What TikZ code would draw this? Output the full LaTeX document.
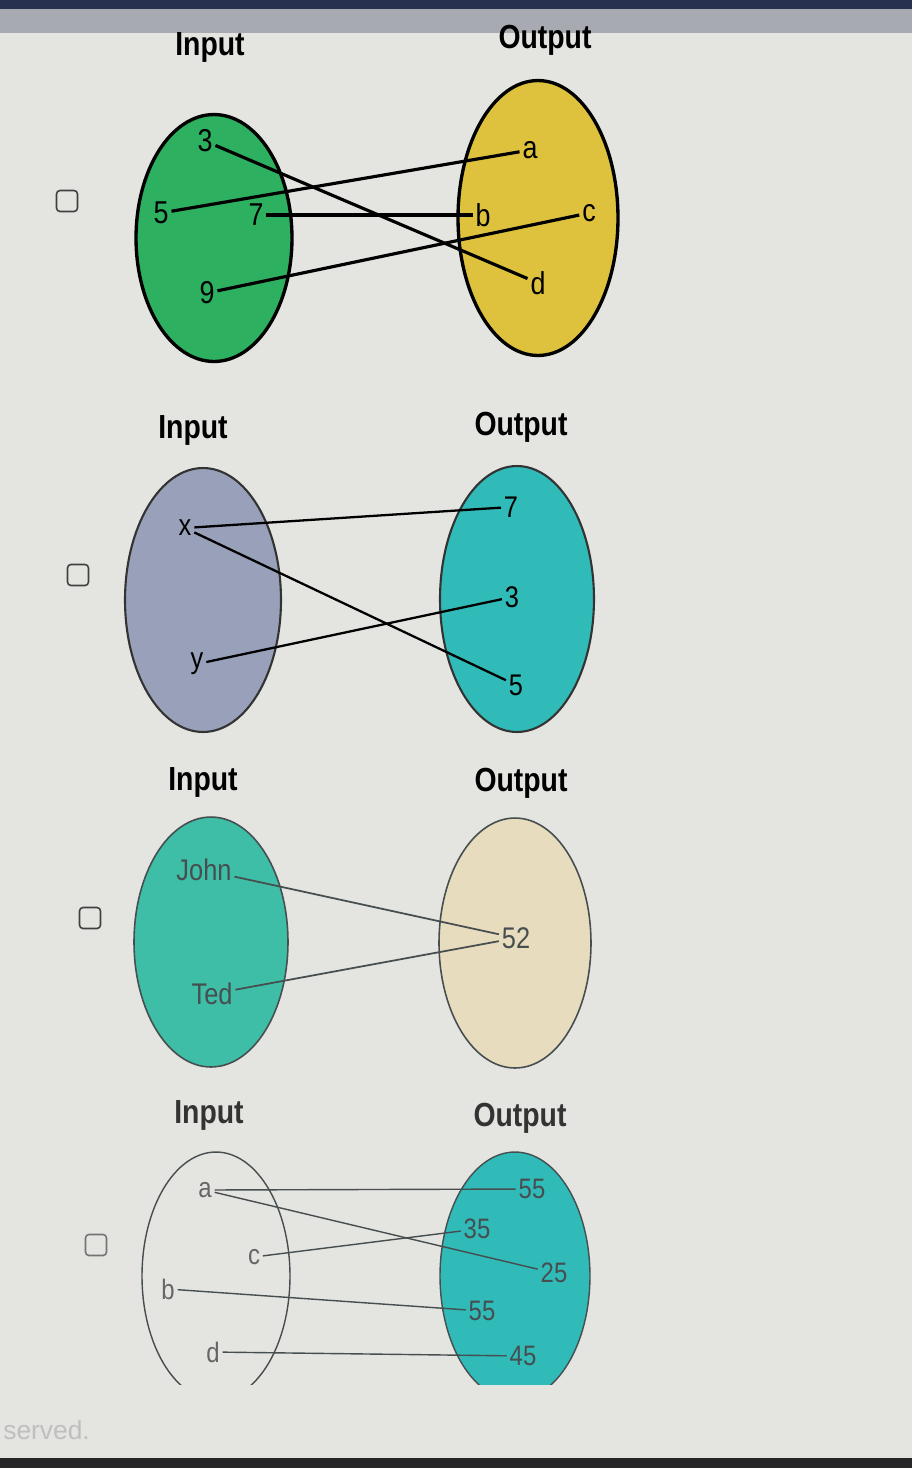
\documentclass[tikz,border=0pt]{standalone}
\usepackage{fontspec}
\setmainfont{Liberation Sans}
\newfontfamily\condfont[FakeStretch=0.85]{Liberation Sans}
\usetikzlibrary{shapes.geometric, positioning}
\definecolor{screengray}{RGB}{228,228,225}
\definecolor{bargray}{RGB}{168,170,178}
\definecolor{barnavy}{RGB}{40,48,80}
\definecolor{setgreen}{RGB}{45,176,96}
\definecolor{setyellow}{RGB}{222,194,62}
\definecolor{setslate}{RGB}{152,160,186}
\definecolor{setteal}{RGB}{48,186,184}
\definecolor{setmint}{RGB}{62,190,166}
\definecolor{setsand}{RGB}{232,220,190}
\definecolor{inkgray}{RGB}{70,78,80}

\begin{document}
\begin{tikzpicture}[
        x=0.02cm, y=-0.02cm,
        setshape/.style={ellipse, draw=black, inner sep=0pt},
        heading/.style={font=\condfont\bfseries\fontsize{19}{21}\selectfont},
        elem/.style={font=\condfont\fontsize{17}{19}\selectfont, inner sep=1.5pt},
        tickbox/.style={rectangle, draw=black!75, fill=screengray, line width=0.9pt, rounded corners=2pt, minimum size=0.42cm, inner sep=0pt},
        link/.style={line width=1.4pt}
    ]
        % screen
        \useasboundingbox (0,0) rectangle (912,1468);
        \fill[screengray] (0,0) rectangle (912,1468);
        \fill[bargray] (0,0) rectangle (912,33);
        \fill[barnavy] (0,0) rectangle (912,9);
        \fill[black!85] (0,1458) rectangle (912,1468);
        \node[font=\fontsize{15}{17}\selectfont, text=black!25, anchor=west, inner sep=0pt] (foot) at (3,1430) {served.};

        % first relation
        \node[tickbox] (box1) at (67,201) {};
        \node[heading] (in1) at (210,47) {Input};
        \node[heading] (out1) at (545,40) {Output};
        \node[setshape, fill=setgreen, line width=1.9pt, minimum width=3.12cm, minimum height=4.94cm] (set1a) at (214,238) {};
        \node[setshape, fill=setyellow, line width=1.9pt, minimum width=3.2cm, minimum height=5.5cm] (set1b) at (538,218) {};
        \node[elem, font=\condfont\fontsize{18}{20}\selectfont] (p3) at (205,141) {3};
        \node[elem, font=\condfont\fontsize{18}{20}\selectfont] (p5) at (161,213) {5};
        \node[elem, font=\condfont\fontsize{18}{20}\selectfont] (p7) at (256,215) {7};
        \node[elem, font=\condfont\fontsize{18}{20}\selectfont] (p9) at (207,293) {9};
        \node[elem, font=\condfont\fontsize{18}{20}\selectfont] (qa) at (530,150) {a};
        \node[elem, font=\condfont\fontsize{18}{20}\selectfont] (qb) at (483,215) {b};
        \node[elem, font=\condfont\fontsize{18}{20}\selectfont] (qc) at (589,213) {c};
        \node[elem, font=\condfont\fontsize{18}{20}\selectfont] (qd) at (538,283) {d};
        \draw[link, line width=1.8pt] (p3) -- (qd);
        \draw[link, line width=1.8pt] (p5) -- (qa);
        \draw[link, line width=1.8pt] (p7) -- (qb);
        \draw[link, line width=1.8pt] (p9) -- (qc);

        % second relation
        \node[tickbox] (box2) at (78,575) {};
        \node[heading] (in2) at (193,430) {Input};
        \node[heading] (out2) at (521,427) {Output};
        \node[setshape, fill=setslate, draw=black!80, line width=1.2pt, minimum width=3.12cm, minimum height=5.28cm] (set2a) at (203,600) {};
        \node[setshape, fill=setteal, draw=black!80, line width=1.2pt, minimum width=3.08cm, minimum height=5.32cm] (set2b) at (517,599) {};
        \node[elem] (rx) at (185,528) {x};
        \node[elem] (ry) at (197,664) {y};
        \node[elem] (s7) at (511,507) {7};
        \node[elem] (s3) at (512,597) {3};
        \node[elem] (s5) at (516,685) {5};
        \draw[link, line width=1.3pt] (rx) -- (s7);
        \draw[link, line width=1.3pt] (rx) -- (s5);
        \draw[link, line width=1.3pt] (ry) -- (s3);

        % third relation
        \node[tickbox] (box3) at (90,918) {};
        \node[heading] (in3) at (203,782) {Input};
        \node[heading] (out3) at (521,783) {Output};
        \node[setshape, fill=setmint, draw=inkgray, line width=0.9pt, minimum width=3.08cm, minimum height=5cm] (set3a) at (211,942) {};
        \node[setshape, fill=setsand, draw=inkgray, line width=0.9pt, minimum width=3.04cm, minimum height=5cm] (set3b) at (515,943) {};
        \node[elem, text=inkgray] (tjohn) at (204,870) {John};
        \node[elem, text=inkgray] (tted) at (212,994) {Ted};
        \node[elem, text=inkgray] (u52) at (516,938) {52};
        \draw[link, line width=1pt, draw=inkgray] (tjohn) -- (u52);
        \draw[link, line width=1pt, draw=inkgray] (tted) -- (u52);

        % fourth relation
        \node[tickbox, draw=black!55] (box4) at (96,1245) {};
        \node[heading, text=black!80] (in4) at (209,1115) {Input};
        \node[heading, text=black!80] (out4) at (520,1118) {Output};
        \begin{scope}
            \clip (100,1140) rectangle (640,1384);
            \node[setshape, fill=setteal, draw=inkgray, line width=0.8pt, minimum width=3cm, minimum height=4.96cm] (set4b) at (515,1276) {};
            \node[setshape, draw=inkgray, line width=0.8pt, minimum width=2.96cm, minimum height=4.96cm] (set4a) at (216,1276) {};
        \end{scope}
        \node[elem, text=black!60, font=\condfont\fontsize{16}{18}\selectfont] (va) at (205,1190) {a};
        \node[elem, text=black!60, font=\condfont\fontsize{16}{18}\selectfont] (vc) at (254,1257) {c};
        \node[elem, text=black!60, font=\condfont\fontsize{16}{18}\selectfont] (vb) at (168,1289) {b};
        \node[elem, text=black!60, font=\condfont\fontsize{16}{18}\selectfont] (vd) at (213,1352) {d};
        \node[elem, text=inkgray, font=\condfont\fontsize{16}{18}\selectfont] (w55a) at (532,1189) {55};
        \node[elem, text=inkgray, font=\condfont\fontsize{16}{18}\selectfont] (w35) at (477,1229) {35};
        \node[elem, text=inkgray, font=\condfont\fontsize{16}{18}\selectfont] (w25) at (554,1273) {25};
        \node[elem, text=inkgray, font=\condfont\fontsize{16}{18}\selectfont] (w55b) at (482,1311) {55};
        \node[elem, text=inkgray, font=\condfont\fontsize{16}{18}\selectfont] (w45) at (523,1356) {45};
        \draw[link, line width=0.8pt, draw=inkgray] (va) -- (w55a);
        \draw[link, line width=0.8pt, draw=inkgray] (va) -- (w25);
        \draw[link, line width=0.8pt, draw=inkgray] (vc) -- (w35);
        \draw[link, line width=0.8pt, draw=inkgray] (vb) -- (w55b);
        \draw[link, line width=0.8pt, draw=inkgray] (vd) -- (w45);
    \end{tikzpicture}
\end{document}
